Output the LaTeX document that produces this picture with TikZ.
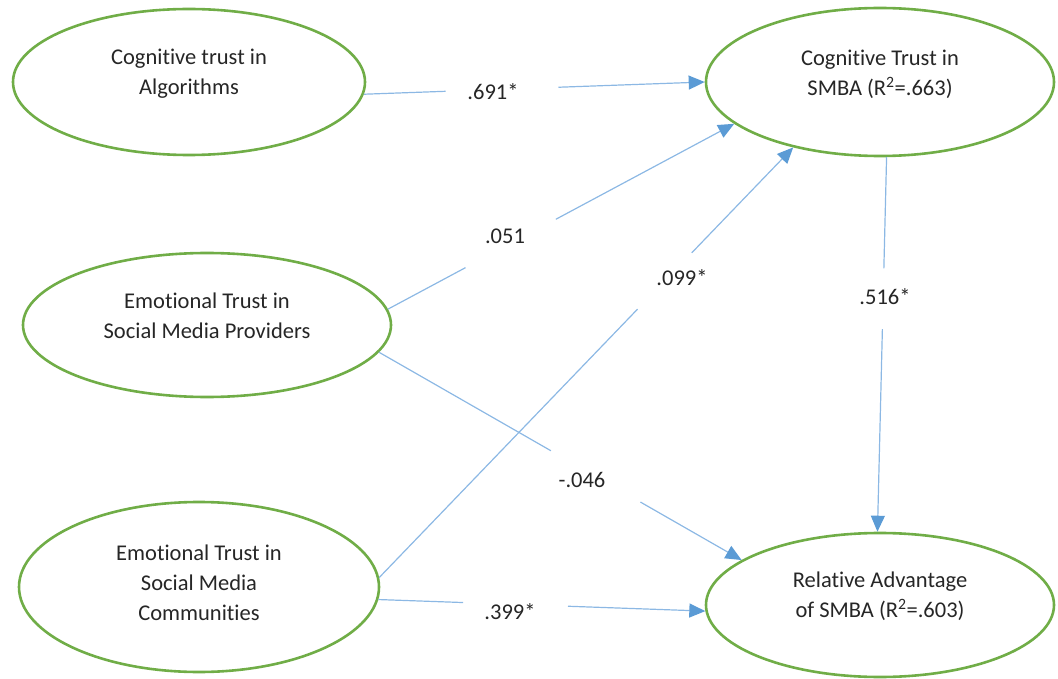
\documentclass[tikz,border=0pt]{standalone}
\usepackage{fontspec}
\setmainfont{Carlito}[Ligatures=NoCommon]
\usetikzlibrary{arrows.meta,shapes.geometric,calc}
\definecolor{ovalgreen}{HTML}{70AD47}
\definecolor{linkblue}{HTML}{8CB8E4}
\definecolor{tipblue}{HTML}{5B9BD5}
\definecolor{txtcol}{HTML}{262626}
\begin{document}
\begin{tikzpicture}[x=1pt,y=-1pt,
  oval/.style={ellipse, draw=ovalgreen, line width=2.6pt, inner sep=0pt},
  txt/.style={text=txtcol, font=\fontsize{22.5pt}{30pt}\selectfont, align=center, inner sep=0pt},
  link/.style={draw=linkblue, line width=1.2pt},
  arrowlink/.style={link, -{Triangle[length=16pt,width=14pt,color=tipblue]}},
  coef/.style={txt}]
\useasboundingbox (0,0) rectangle (1058,679);

% ovals
\node[oval, minimum width=352pt, minimum height=146pt,
  label={[txt,yshift=8pt]center:{Cognitive trust in\\Algorithms}}] (e1) at (189,82) {};
\node[oval, minimum width=348pt, minimum height=148pt,
  label={[txt,yshift=8pt]center:{Cognitive Trust in\\SMBA (R\textsuperscript{2}=.663)}}] (e2) at (880,82) {};
\node[oval, minimum width=368pt, minimum height=144pt,
  label={[txt,yshift=9pt]center:{Emotional Trust in\\Social Media Providers}}] (e3) at (207,325) {};
\node[oval, minimum width=360pt, minimum height=170pt,
  label={[txt,yshift=4pt]center:{Emotional Trust in\\Social Media\\Communities}}] (e4) at (199,587) {};
\node[oval, minimum width=348pt, minimum height=144pt,
  label={[txt,yshift=9pt]center:{Relative Advantage\\of SMBA (R\textsuperscript{2}=.603)}}] (e5) at (880,605) {};

% .691*
\coordinate (g1a) at ($(e1.-4)!0.240!(e2.180)$);
\coordinate (g1b) at ($(e1.-4)!0.571!(e2.180)$);
\draw[link] (e1.-4) -- (g1a);
\draw[arrowlink] (g1b) -- (e2.180);
\node[coef] (c1) at (493,92) {.691*};

% .051
\coordinate (g2a) at ($(e3.5.4)!0.224!(e2.196)$);
\coordinate (g2b) at ($(e3.5.4)!0.485!(e2.196)$);
\draw[link] (e3.5.4) -- (g2a);
\draw[arrowlink] (g2b) -- (e2.196);
\node[coef] (c2) at (505,236) {.051};

% .099*
\coordinate (g3a) at ($(e4.3)!0.624!(e2.217)$);
\coordinate (g3b) at ($(e4.3)!0.755!(e2.217)$);
\draw[link] (e4.3) -- (g3a);
\draw[arrowlink] (g3b) -- (e2.217);
\node[coef] (c3) at (682,278) {.099*};

% -.046
\coordinate (g4a) at ($(e3.-9)!0.474!(e5.162.3)$);
\coordinate (g4b) at ($(e3.-9)!0.721!(e5.162.3)$);
\draw[link] (e3.-9) -- (g4a);
\draw[arrowlink] (g4b) -- (e5.162.3);
\node[coef] (c4) at (582,480) {-.046};

% .399*
\coordinate (g5a) at ($(e4.-4)!0.259!(e5.182)$);
\coordinate (g5b) at ($(e4.-4)!0.580!(e5.182)$);
\draw[link] (e4.-4) -- (g5a);
\draw[arrowlink] (g5b) -- (e5.182);
\node[coef] (c5) at (510,612) {.399*};

% .516*
\coordinate (g6a) at ($(e2.-85)!0.297!(e5.92)$);
\coordinate (g6b) at ($(e2.-85)!0.459!(e5.92)$);
\draw[link] (e2.-85) -- (g6a);
\draw[arrowlink] (g6b) -- (e5.92);
\node[coef] (c6) at (885,297) {.516*};
\end{tikzpicture}
\end{document}
